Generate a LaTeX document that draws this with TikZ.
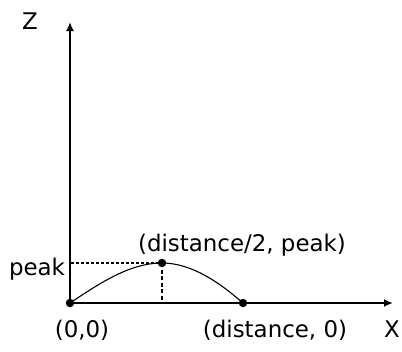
\documentclass[tikz,border=0pt]{standalone}
\usepackage{fontspec}
\setmainfont{DejaVu Sans}
\usetikzlibrary{arrows.meta}
\begin{document}
\begin{tikzpicture}[x=1bp,y=-1bp,
  axis/.style={line width=2.2bp,-{Latex[length=9bp,width=8bp]}},
  dot/.style={circle,fill=black,inner sep=0pt,minimum size=8.5bp},
  lbl/.style={inner sep=0pt,anchor=base,font=\fontsize{23}{27}\selectfont},
  curve/.style={line width=1.1bp},
  thindash/.style={line width=1.1bp,dash pattern=on 3bp off 2bp},
  thickdash/.style={line width=2.4bp,dash pattern=on 4bp off 2.5bp}]
\useasboundingbox (0,0) rectangle (402,352);
\coordinate (O) at (70,303);
\coordinate (ztop) at (70,22);
\coordinate (xend) at (393,303);
\coordinate (zp) at (71,263);
\coordinate (foot) at (162,303);
\node[dot] (o) at (O) {};
\node[dot] (pk) at (162,263) {};
\node[dot] (d) at (243,303) {};
\draw[axis] (O) -- (ztop);
\draw[axis] (O) -- (xend);
\draw[thindash] (zp) -- (pk.center);
\draw[thickdash] (pk.center) -- (foot);
\draw[curve] (o.center) .. controls (100,283) and (130,263) .. (pk.center)
  .. controls (192,263) and (220,283) .. (d.center);
\node[lbl] (zl) at (30,29) {Z};
\node[lbl] (xl) at (392,337) {X};
\node[lbl] (pl) at (37,275) {peak};
\node[lbl] (pkl) at (242,251) {(distance/2, peak)};
\node[lbl] (ol) at (82,337) {(0,0)};
\node[lbl] (dl) at (275,337) {(distance, 0)};
\end{tikzpicture}
\end{document}
